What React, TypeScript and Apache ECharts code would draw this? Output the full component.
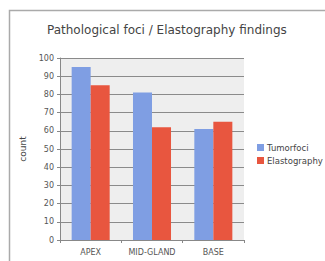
import React, { useEffect, useRef } from "react";
import * as echarts from "echarts";

const categories = ["APEX", "MID-GLAND", "BASE"];
const tumorfoci = [95, 81, 61];
const elastography = [85, 62, 65];
const seriesNames = ["Tumorfoci", "Elastography"];
const titleText = "Pathological foci / Elastography findings";
const yAxisName = "count";

export default function App() {
  const ref = useRef<HTMLDivElement>(null);
  useEffect(() => {
    const chart = echarts.init(ref.current!, undefined, { renderer: "svg" });
    const font = "DejaVu Sans";
    chart.setOption({
      animation: false,
      backgroundColor: "#ffffff",
      title: {
        text: titleText,
        left: 42,
        top: 19,
        textStyle: { fontFamily: font, fontSize: 12, fontWeight: "normal", color: "#444" },
      },
      graphic: [
        {
          type: "rect",
          shape: { x: 9.5, y: 10.5, width: 330, height: 270 },
          style: { fill: "none", stroke: "#aaaaaa", lineWidth: 1.5 },
        },
      ],
      legend: {
        orient: "vertical",
        left: 252,
        top: 138,
        itemWidth: 7,
        itemHeight: 7,
        itemGap: 4,
        icon: "rect",
        textStyle: { fontFamily: font, fontSize: 8.5, color: "#444", padding: [0, 0, 0, -2] },
        data: seriesNames,
      },
      grid: { left: 60, right: 81, top: 58, bottom: 21, containLabel: false },
      xAxis: {
        type: "category",
        data: categories,
        axisLine: { lineStyle: { color: "#888" } },
        axisTick: { show: true, length: 3, lineStyle: { color: "#888" } },
        axisLabel: { fontFamily: font, fontSize: 8, color: "#555", margin: 8 },
      },
      yAxis: {
        type: "value",
        min: 0,
        max: 100,
        interval: 10,
        name: yAxisName,
        nameLocation: "middle",
        nameGap: 31,
        nameTextStyle: { fontFamily: font, fontSize: 9, color: "#444" },
        axisLine: { show: true, lineStyle: { color: "#888" } },
        axisTick: { show: true, length: 3, lineStyle: { color: "#888" } },
        axisLabel: { fontFamily: font, fontSize: 8, color: "#555", margin: 6 },
        splitLine: { lineStyle: { color: "#8a8a8a", width: 1 } },
        splitArea: { show: true, areaStyle: { color: ["#eeeeee", "#eeeeee"] } },
      },
      series: [
        {
          name: seriesNames[0],
          type: "bar",
          data: tumorfoci,
          itemStyle: { color: "#7f9ee3" },
          barGap: "0%",
          barCategoryGap: "38%",
        },
        {
          name: seriesNames[1],
          type: "bar",
          data: elastography,
          itemStyle: { color: "#e8563f" },
        },
      ],
    });
    return () => chart.dispose();
  }, []);
  return (
    <div
      ref={ref}
      style={{ position: "fixed", left: 0, top: 0, width: 325, height: 261 }}
    />
  );
}
